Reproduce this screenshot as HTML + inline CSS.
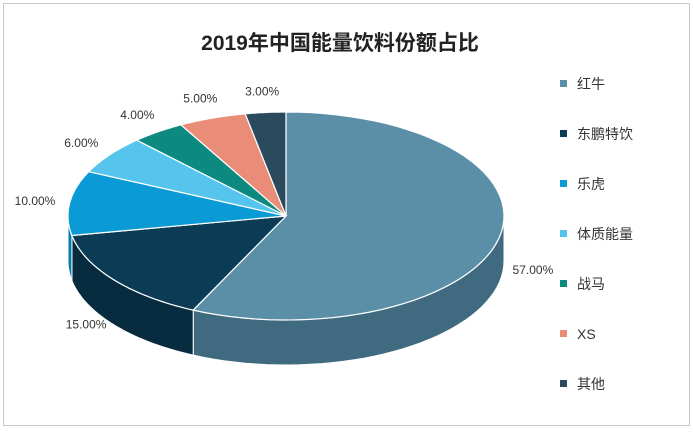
<!DOCTYPE html>
<html><head><meta charset="utf-8"><style>
body{margin:0;background:#fff;font-family:"Liberation Sans","Noto Sans CJK SC",sans-serif;}
#wrap{position:relative;width:693px;height:430px;}
</style></head><body>
<div id="wrap">
<svg id="chart" width="693" height="430">
<rect x="3.5" y="3.5" width="686" height="422" fill="#fff" stroke="#c8c8c8"/>
<text x="340" y="50" text-anchor="middle" font-size="21" font-weight="bold" fill="#222" font-family="Liberation Sans,Noto Sans CJK SC,sans-serif">2019年中国能量饮料份额占比</text>
<g id="sides"></g><g id="tops"></g><g id="labels"></g><g id="legend"></g>
</svg></div>
<script>
const categories=["红牛","东鹏特饮","乐虎","体质能量","战马","XS","其他"];
const values=[57,15,10,6,4,5,3];
const colors=["#5b8fa8","#0c3c55","#0a9bd6","#55c5ee","#0d8a80","#e98c78","#2c4a5d"];
const sideColors=["#3f6a80","#082c3f","#077bab","#3a9dc0","#086860","#b96a5a","#1f3646"];
const cx=286,cy=216,rx=218,ry=104,depth=45;
const NS="http://www.w3.org/2000/svg";
const total=values.reduce((a,b)=>a+b,0);
function pt(t,dy){return [cx+rx*Math.sin(t),cy-ry*Math.cos(t)+(dy||0)];}
function mk(tag,attrs,parent){const e=document.createElementNS(NS,tag);for(const k in attrs)e.setAttribute(k,attrs[k]);parent.appendChild(e);return e;}
const sides=document.getElementById('sides'),tops=document.getElementById('tops'),labels=document.getElementById('labels'),legend=document.getElementById('legend');
let acc=0;
values.forEach((v,i)=>{
  const a0=acc/total*2*Math.PI,a1=(acc+v)/total*2*Math.PI;acc+=v;
  const s0=Math.max(a0,Math.PI/2),s1=Math.min(a1,3*Math.PI/2);
  if(s1>s0){
    let d="";const n=40;
    for(let k=0;k<=n;k++){const p=pt(s0+(s1-s0)*k/n);d+=(k?"L":"M")+p[0].toFixed(1)+","+p[1].toFixed(1);}
    for(let k=n;k>=0;k--){const p=pt(s0+(s1-s0)*k/n,depth);d+="L"+p[0].toFixed(1)+","+p[1].toFixed(1);}
    const s=mk('path',{d:d+"Z",fill:sideColors[i],stroke:"#fff","stroke-width":"1"},sides);
    
    
  }
  let d="M"+cx+","+cy;const n=60;
  for(let k=0;k<=n;k++){const p=pt(a0+(a1-a0)*k/n);d+="L"+p[0].toFixed(1)+","+p[1].toFixed(1);}
  const t=mk('path',{d:d+"Z",fill:colors[i],stroke:"#fff","stroke-width":"1.2"},tops);
  
  
  const m=(a0+a1)/2,c=Math.cos(m);
  const lx=cx+(rx+35)*Math.sin(m);
  const ly=cy-(ry+(c>0?22:35))*c+(c<0?depth*0.5:0)+5;
  const l=mk('text',{x:lx.toFixed(1),y:ly.toFixed(1),"text-anchor":"middle","font-size":"12",fill:"#333"},labels);
  l.textContent=v.toFixed(2)+"%";
  
  
  const y=84+i*50;
  const r=mk('rect',{x:560,y:y-4,width:7,height:7,fill:colors[i]},legend);
  
  
  const tx=mk('text',{x:577,y:y+5,"font-size":"14",fill:"#333"},legend);
  tx.textContent=categories[i];
  
  
});
</script>
</body></html>
